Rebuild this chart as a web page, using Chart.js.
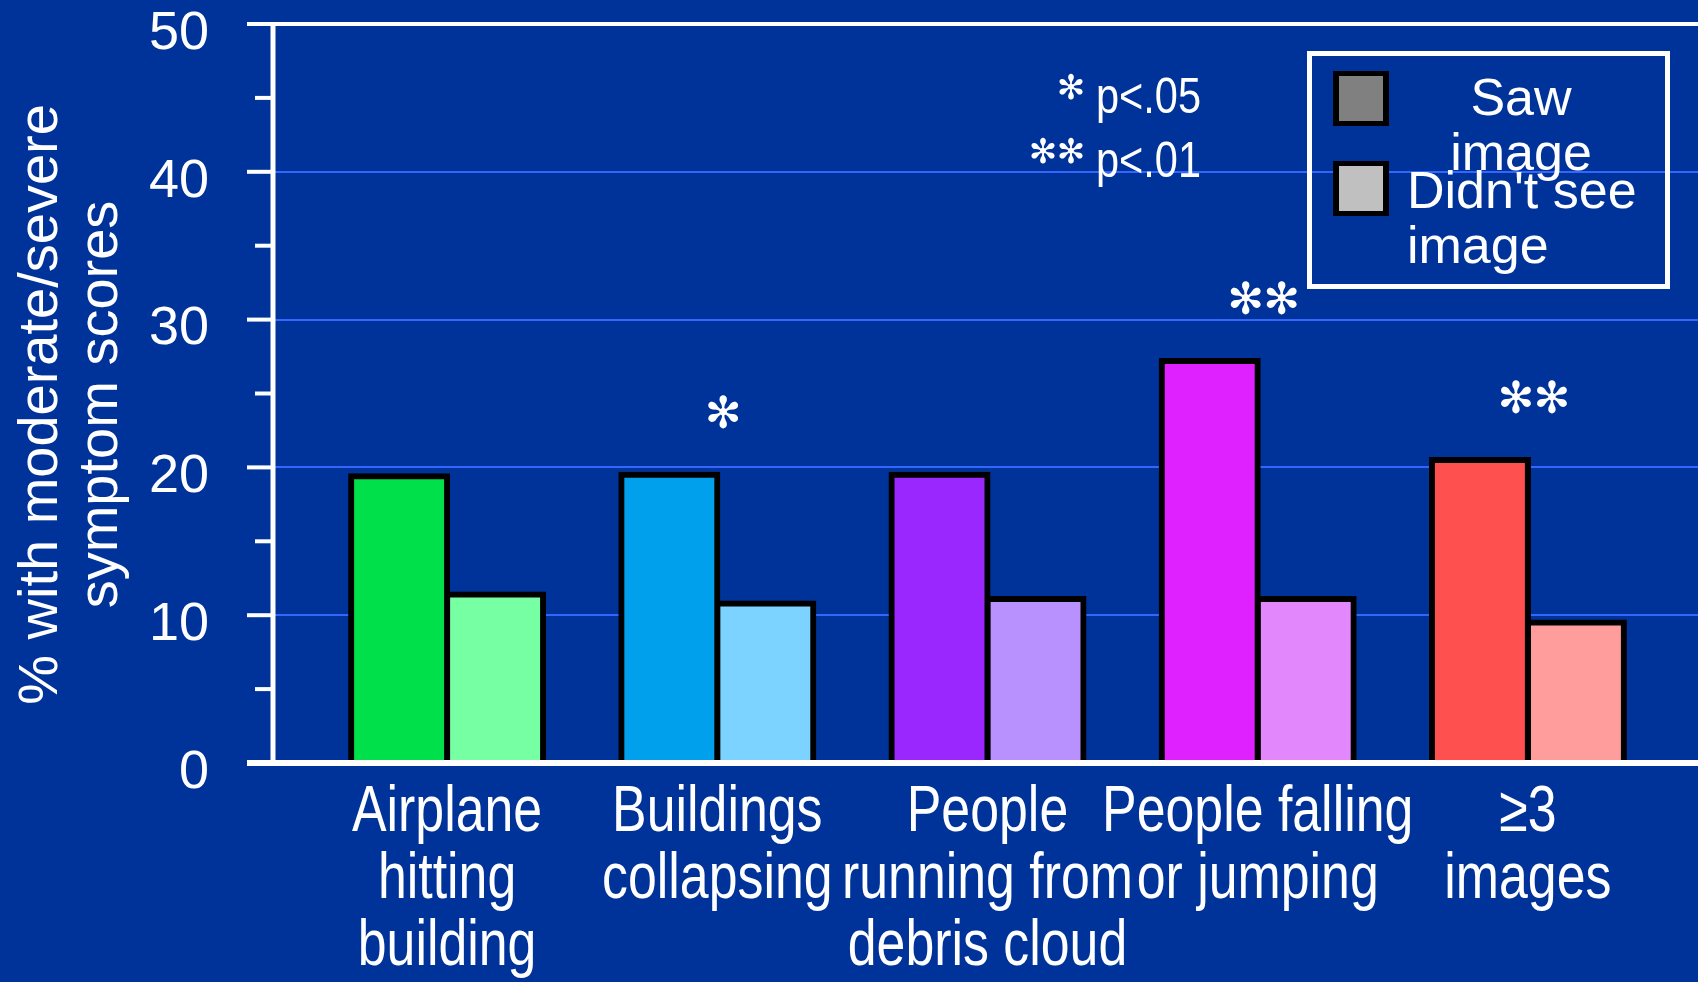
<!DOCTYPE html>
<html>
<head>
<meta charset="utf-8">
<title>Symptom scores by image seen</title>
<script src="https://cdn.jsdelivr.net/npm/chart.js@4.4.1/dist/chart.umd.min.js"></script>
<style>
  html, body { margin: 0; padding: 0; background: #003399; }
  #wrap { width: 1698px; height: 982px; position: relative; }
</style>
</head>
<body>
<div id="wrap"><canvas id="chart"></canvas></div>
<script>
// categories (multi-line labels) and the two series
const categories = [
  ['Airplane', 'hitting', 'building'],
  ['Buildings', 'collapsing'],
  ['People', 'running from', 'debris cloud'],
  ['People falling', 'or jumping'],
  ['≥3', 'images']
];
const sawImage = [19.4, 19.5, 19.5, 27.2, 20.5];
const didntSeeImage = [11.4, 10.8, 11.1, 11.1, 9.5];
const significance = ['', '*', '', '**', '**'];
const yTicks = [0, 10, 20, 30, 40, 50];
const yTitle = ['% with moderate/severe', 'symptom scores'];
const pNotes = [['*', 'p<.05'], ['**', 'p<.01']];

const sawColors = ['#00e04a', '#00a0ec', '#9b27ff', '#df20ff', '#ff5050'];
const didntColors = ['#77ffa4', '#7dd3ff', '#b891ff', '#e388fc', '#ff9c9c'];
const legendItems = [
  { text: ['Saw', 'image'], color: '#808080', center: true },
  { text: ["Didn't see", 'image'], color: '#c0c0c0', center: false }
];

const SANS = '"Liberation Sans", Arial, Helvetica, sans-serif';
const STAR = '"DejaVu Sans", sans-serif';
const STAR_CHAR = '\u273B';
const NARROW_X = 0.81;   // condensed look for category and p-value text

// white frame, tick marks and blue grid lines
const frameLeft = 273;
const axisFrame = {
  id: 'axisFrame',
  beforeDatasetsDraw(chart) {
    const { ctx, scales: { y }, width } = chart;
    ctx.save();
    ctx.strokeStyle = '#3366ff';
    ctx.lineWidth = 2;
    yTicks.slice(1, -1).forEach(v => {
      const py = Math.round(y.getPixelForValue(v));
      ctx.beginPath();
      ctx.moveTo(frameLeft, py);
      ctx.lineTo(width, py);
      ctx.stroke();
    });
    ctx.restore();
  },
  afterDatasetsDraw(chart) {
    const { ctx, scales: { y }, width } = chart;
    const top = y.getPixelForValue(yTicks[yTicks.length - 1]);
    const bottom = y.getPixelForValue(yTicks[0]);
    ctx.save();
    ctx.strokeStyle = '#ffffff';
    ctx.lineCap = 'butt';

    ctx.lineWidth = 4;
    ctx.beginPath();
    ctx.moveTo(frameLeft - 26, top);
    ctx.lineTo(width, top);
    ctx.stroke();

    ctx.lineWidth = 6;
    ctx.beginPath();
    ctx.moveTo(frameLeft - 26, bottom);
    ctx.lineTo(width, bottom);
    ctx.stroke();

    ctx.lineWidth = 5;
    ctx.beginPath();
    ctx.moveTo(frameLeft, top - 2);
    ctx.lineTo(frameLeft, bottom + 3);
    ctx.stroke();

    // major and minor tick marks
    ctx.lineWidth = 4;
    yTicks.forEach((v, i) => {
      const py = y.getPixelForValue(v);
      ctx.beginPath();
      ctx.moveTo(frameLeft - 26, py);
      ctx.lineTo(frameLeft, py);
      ctx.stroke();
      if (i < yTicks.length - 1) {
        const pm = y.getPixelForValue((v + yTicks[i + 1]) / 2);
        ctx.beginPath();
        ctx.moveTo(frameLeft - 18, pm);
        ctx.lineTo(frameLeft, pm);
        ctx.stroke();
      }
    });
    ctx.restore();
  }
};

function narrowText(ctx, text, x, y, sx) {
  ctx.save();
  ctx.translate(x, y);
  ctx.scale(sx, 1);
  ctx.fillText(text, 0, 0);
  ctx.restore();
}

// axis titles/labels, significance stars, p-value key and legend box
const annotations = {
  id: 'annotations',
  afterDraw(chart) {
    const { ctx, scales: { x, y }, chartArea } = chart;
    const sawBars = chart.getDatasetMeta(0).data;
    ctx.save();
    ctx.fillStyle = '#ffffff';

    // category labels
    ctx.font = '64px ' + SANS;
    ctx.textAlign = 'center';
    ctx.textBaseline = 'alphabetic';
    x.getLabels().forEach((lines, i) => {
      const cx = x.getPixelForValue(i);
      lines.forEach((line, k) => {
        narrowText(ctx, line, cx, chartArea.bottom + 68 + k * 67, NARROW_X);
      });
    });

    // y axis title
    ctx.save();
    ctx.translate(0, (chartArea.top + chartArea.bottom) / 2 + 11);
    ctx.rotate(-Math.PI / 2);
    ctx.font = '56px ' + SANS;
    ctx.textAlign = 'center';
    yTitle.forEach((line, k) => ctx.fillText(line, 0, 57 + k * 60));
    ctx.restore();

    // significance stars above the "saw" bars
    ctx.font = '44px ' + STAR;
    ctx.textAlign = 'center';
    ctx.textBaseline = 'middle';
    significance.forEach((s, i) => {
      if (!s) return;
      const cx = x.getPixelForValue(i) + 6;
      const cy = sawBars[i].y - 58;
      for (let j = 0; j < s.length; j++) {
        ctx.fillText(STAR_CHAR, cx + (j - (s.length - 1) / 2) * 36, cy);
      }
    });

    // p-value key
    pNotes.forEach((note, i) => {
      const base = 113 + i * 64;
      ctx.font = '34px ' + STAR;
      ctx.textAlign = 'center';
      ctx.textBaseline = 'middle';
      for (let j = 0; j < note[0].length; j++) {
        ctx.fillText(STAR_CHAR, 1071 - (note[0].length - 1 - j) * 28, base - 23);
      }
      ctx.font = '50px ' + SANS;
      ctx.textAlign = 'right';
      ctx.textBaseline = 'alphabetic';
      narrowText(ctx, note[1], 1201, base, 0.83);
    });

    // legend
    ctx.strokeStyle = '#ffffff';
    ctx.lineWidth = 5;
    ctx.strokeRect(1309.5, 53.5, 358, 233);
    ctx.font = '52px ' + SANS;
    ctx.textBaseline = 'alphabetic';
    legendItems.forEach((item, i) => {
      const sy = 71 + i * 90;
      ctx.fillStyle = '#000000';
      ctx.fillRect(1333, sy, 56, 55);
      ctx.fillStyle = item.color;
      ctx.fillRect(1339, sy + 5, 44, 45);
      ctx.fillStyle = '#ffffff';
      item.text.forEach((line, k) => {
        const by = (i === 0 ? 115 : 208) + k * 55;
        if (item.center) {
          ctx.textAlign = 'center';
          ctx.fillText(line, 1521, by);
        } else {
          ctx.textAlign = 'left';
          ctx.fillText(line, 1407, by);
        }
      });
    });
    ctx.restore();
  }
};

const barBorder = { top: 6, left: 6, right: 6, bottom: 0 };

new Chart(document.getElementById('chart'), {
  type: 'bar',
  data: {
    labels: categories,
    datasets: [
      {
        label: 'Saw image',
        data: sawImage,
        backgroundColor: sawColors,
        borderColor: '#000000',
        borderWidth: barBorder,
        inflateAmount: 3
      },
      {
        label: "Didn't see image",
        data: didntSeeImage,
        backgroundColor: didntColors,
        borderColor: '#000000',
        borderWidth: barBorder,
        inflateAmount: 3
      }
    ]
  },
  options: {
    responsive: true,
    maintainAspectRatio: false,
    animation: false,
    layout: { padding: { top: 24, right: 35, left: 0, bottom: 0 } },
    datasets: { bar: { categoryPercentage: 0.7105, barPercentage: 1 } },
    plugins: {
      legend: { display: false },
      tooltip: { enabled: false }
    },
    scales: {
      x: {
        grid: { display: false, drawTicks: false },
        border: { display: false },
        ticks: { display: false },
        afterFit(scale) {
          scale.height = 219;
          scale.paddingLeft = 0;
          scale.paddingRight = 0;
        }
      },
      y: {
        min: 0,
        max: 50,
        ticks: {
          stepSize: 10,
          color: '#ffffff',
          font: { family: SANS, size: 54 },
          padding: 103,
          labelOffset: 10
        },
        grid: { display: false, drawTicks: false },
        border: { display: false },
        afterFit(scale) {
          scale.width = 312;
          scale.paddingTop = 0;
          scale.paddingBottom = 0;
        }
      }
    }
  },
  plugins: [axisFrame, annotations]
});
</script>
</body>
</html>
